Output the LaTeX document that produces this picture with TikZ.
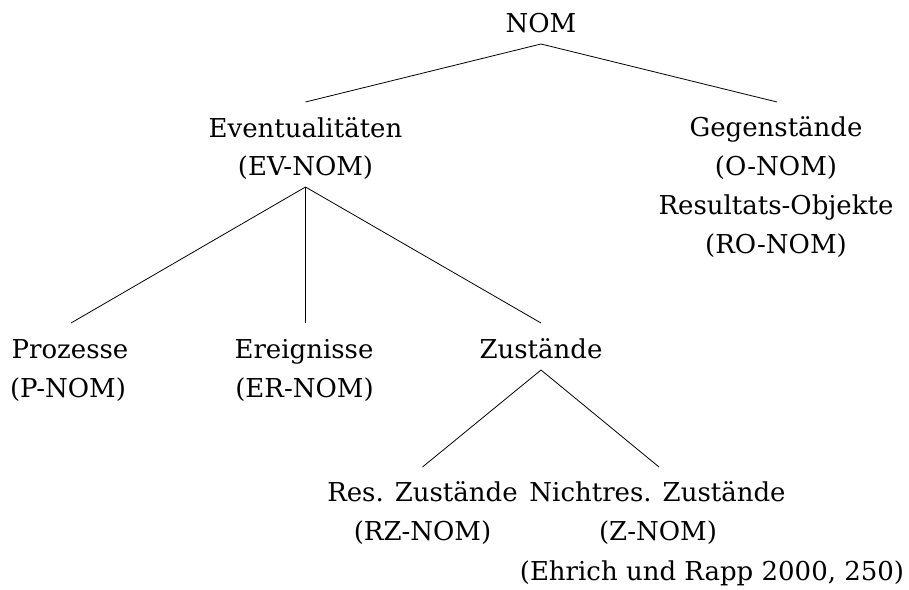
\documentclass[tikz,border=0pt]{standalone}
\usepackage{fontspec}
\setmainfont{DejaVu Serif}
\begin{document}
\begin{tikzpicture}[x=1pt,y=-1pt,
  lbl/.style={anchor=base,inner sep=0pt,font=\fontsize{26}{31}\selectfont},
  edge/.style={line width=0.8pt}]
\useasboundingbox (0,0) rectangle (909,589);
% root
\node[lbl] (nom) at (541,32) {NOM};
% first level
\node[lbl] (ev)  at (305.5,137) {Eventualitäten};
\node[lbl] (ev2) at (305.5,175) {(EV-NOM)};
\node[lbl] (geg)  at (776,136) {Gegenstände};
\node[lbl] (geg2) at (776,175) {(O-NOM)};
\node[lbl] (geg3) at (776,214) {Resultats-Objekte};
\node[lbl] (geg4) at (776,253) {(RO-NOM)};
% second level
\node[lbl] (pr)  at (70,358) {Prozesse};
\node[lbl] (pr2) at (68,397) {(P-NOM)};
\node[lbl] (er)  at (304,358) {Ereignisse};
\node[lbl] (er2) at (304.5,397) {(ER-NOM)};
\node[lbl] (zu)  at (541,358) {Zustände};
% third level
\node[lbl] (rz)  at (422.5,501) {Res. Zustände};
\node[lbl] (rz2) at (422.5,540) {(RZ-NOM)};
\node[lbl] (nz)  at (657.5,501) {Nichtres. Zustände};
\node[lbl] (nz2) at (658,540) {(Z-NOM)};
\node[lbl] (cite) at (712,580) {(Ehrich und Rapp 2000, 250)};
% branches
\draw[edge] ([yshift=-12pt]nom.base) -- ([yshift=35pt]ev.base);
\draw[edge] ([yshift=-12pt]nom.base) -- ([yshift=34pt,xshift=1pt]geg.base);
\draw[edge] ([yshift=-12pt]ev2.base) -- ([yshift=35pt,xshift=1pt]pr.base);
\draw[edge] ([yshift=-12pt]ev2.base) -- ([yshift=35pt]er.base -| ev2.base);
\draw[edge] ([yshift=-12pt]ev2.base) -- ([yshift=35pt]zu.base);
\draw[edge] ([yshift=-12pt]zu.base) -- ([yshift=34pt]rz.base);
\draw[edge] ([yshift=-12pt]zu.base) -- ([yshift=34pt,xshift=1.5pt]nz.base);
\end{tikzpicture}
\end{document}
